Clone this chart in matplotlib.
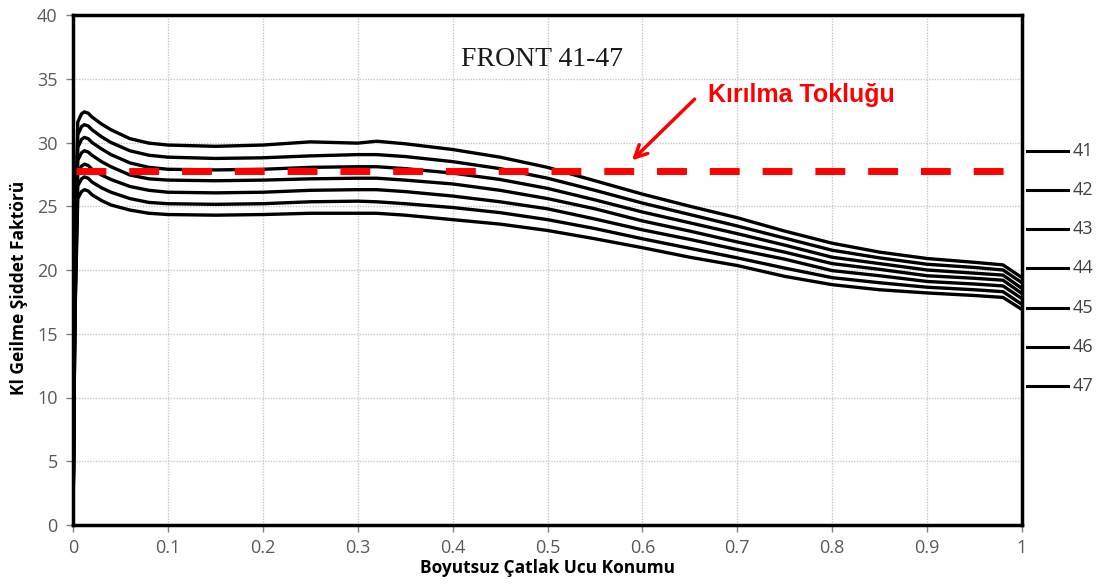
import matplotlib
matplotlib.use("Agg")
import matplotlib.pyplot as plt
import matplotlib.transforms as mtransforms

# ---------------- data ----------------
x = [0, 0.002, 0.005, 0.009, 0.012, 0.016, 0.02, 0.03, 0.04, 0.06, 0.08, 0.1, 0.15, 0.2, 0.25, 0.3, 0.32, 0.35,
     0.4, 0.45, 0.5, 0.55, 0.6, 0.65, 0.7, 0.75, 0.8, 0.85, 0.9, 0.95, 0.98, 1.0]

k41 = [0, 20, 31.6, 32.25, 32.4, 32.3, 32.0, 31.45, 31.0, 30.3, 29.95, 29.8, 29.7, 29.8, 30.05, 29.95, 30.1, 29.9,
       29.45, 28.85, 28.05, 27.0, 25.95, 25.0, 24.1, 23.05, 22.1, 21.4, 20.9, 20.6, 20.4, 19.4]
k42 = [0, 19, 30.6, 31.25, 31.4, 31.3, 31.0, 30.45, 30.0, 29.35, 29.0, 28.85, 28.75, 28.8, 28.95, 29.05, 29.05, 28.9,
       28.5, 27.95, 27.2, 26.25, 25.25, 24.35, 23.45, 22.5, 21.55, 20.95, 20.45, 20.2, 20.0, 19.0]
k43 = [0, 18, 29.6, 30.25, 30.4, 30.3, 30.0, 29.5, 29.05, 28.4, 28.05, 27.9, 27.85, 27.9, 28.05, 28.1, 28.1, 27.95,
       27.6, 27.1, 26.4, 25.5, 24.55, 23.7, 22.85, 21.95, 21.0, 20.5, 20.0, 19.75, 19.6, 18.55]
k44 = [0, 17.5, 28.6, 29.2, 29.35, 29.25, 29.0, 28.5, 28.1, 27.45, 27.15, 27.05, 27.0, 27.05, 27.15, 27.2, 27.2, 27.05,
       26.75, 26.25, 25.6, 24.8, 23.85, 23.05, 22.2, 21.4, 20.5, 20.05, 19.55, 19.35, 19.2, 18.15]
k45 = [0, 17, 27.6, 28.15, 28.3, 28.2, 27.9, 27.45, 27.1, 26.55, 26.25, 26.1, 26.05, 26.1, 26.25, 26.3, 26.3, 26.15,
       25.8, 25.35, 24.8, 24.0, 23.15, 22.4, 21.6, 20.85, 19.95, 19.55, 19.1, 18.9, 18.75, 17.75]
k46 = [0, 16.5, 26.6, 27.15, 27.3, 27.2, 26.9, 26.45, 26.1, 25.6, 25.3, 25.2, 25.15, 25.2, 25.35, 25.4, 25.35, 25.2,
       24.9, 24.5, 23.95, 23.25, 22.45, 21.7, 20.95, 20.15, 19.4, 19.0, 18.65, 18.45, 18.3, 17.3]
k47 = [0, 16, 25.6, 26.15, 26.3, 26.2, 25.9, 25.45, 25.1, 24.7, 24.45, 24.35, 24.3, 24.35, 24.45, 24.45, 24.45, 24.3,
       23.95, 23.6, 23.1, 22.45, 21.75, 21.0, 20.35, 19.5, 18.85, 18.45, 18.2, 18.0, 17.85, 16.9]

series = [k41, k42, k43, k44, k45, k46, k47]
series_labels = ["41", "42", "43", "44", "45", "46", "47"]
label_y = [29.33, 26.27, 23.2, 20.16, 17.02, 13.96, 10.9]

toughness = 27.76
toughness_x = [0.003, 1.0]

xticks = [0, 0.1, 0.2, 0.3, 0.4, 0.5, 0.6, 0.7, 0.8, 0.9, 1]
xticklabels = ["0", "0.1", "0.2", "0.3", "0.4", "0.5", "0.6", "0.7", "0.8", "0.9", "1"]
yticks = [0, 5, 10, 15, 20, 25, 30, 35, 40]

title_text = "FRONT 41-47"
annot_text = "Kırılma Tokluğu"
xlabel = "Boyutsuz Çatlak Ucu Konumu"
ylabel = "Kl Geilme Şiddet Faktörü"

# ---------------- figure ----------------
W, H = 1103, 587
fig = plt.figure(figsize=(W / 100, H / 100), dpi=100)
ax = fig.add_axes([73 / W, 1 - 525 / H, (1022 - 73) / W, (525 - 15) / H])

ax.set_xlim(0, 1)
ax.set_ylim(0, 40)

ax.grid(True, color="#c8c8c8", linestyle=(0, (1, 1)), linewidth=1.0)
ax.set_axisbelow(True)

for s in series:
    ax.plot(x, s, color="black", linewidth=2.4, solid_joinstyle="round",
            solid_capstyle="round", zorder=3)

ax.plot(toughness_x, [toughness, toughness], color="#ff0000", linewidth=5,
        linestyle=(0, (4.3, 3.3)), dash_capstyle="butt", zorder=4)

ax.text(0.494, 36.5, title_text, fontsize=20, family="Liberation Serif",
        ha="center", va="center", color="#1a1a1a")

ax.text(0.669, 33.7, annot_text, fontsize=18, fontweight="bold",
        family="Liberation Sans", color="#ff0000", ha="left", va="center", zorder=5)
ax.annotate("", xy=(0.589, 28.6), xytext=(0.655, 33.4),
            arrowprops=dict(arrowstyle="->", color="#ff0000", lw=2.5,
                            mutation_scale=22, shrinkA=0, shrinkB=0),
            zorder=5)

for sp in ax.spines.values():
    sp.set_linewidth(2.5)
    sp.set_color("black")

ax.set_xticks(xticks)
ax.set_xticklabels(xticklabels)
ax.set_yticks(yticks)
ax.tick_params(axis="both", direction="out", length=5, width=1, color="#808080",
               labelcolor="#595959", labelsize=13)
ax.tick_params(axis="x", pad=5)
ax.tick_params(axis="y", pad=6)
for lbl in ax.get_xticklabels() + ax.get_yticklabels():
    lbl.set_family("Open Sans")

ax.set_xlabel(xlabel, fontsize=12.5, fontweight="bold", family="Open Sans", labelpad=2)
ax.set_ylabel(ylabel, fontsize=12.5, fontweight="bold", family="Open Sans", labelpad=6)
ax.yaxis.set_label_coords(-0.057, 0.465)
ax.xaxis.set_label_coords(0.5, -0.085)
ax.xaxis.label.set_va("center")
ax.yaxis.label.set_va("center")

# right-hand series labels
trans = mtransforms.blended_transform_factory(ax.transAxes, ax.transData)
for lab, yy in zip(series_labels, label_y):
    ax.plot([1.0053, 1.0485], [yy, yy], color="black", linewidth=2.2,
            transform=trans, clip_on=False)
    ax.text(1.053, yy, lab, transform=trans, fontsize=13, family="Open Sans",
            color="#404040", ha="left", va="center")

fig.savefig("out.png", dpi=100)
